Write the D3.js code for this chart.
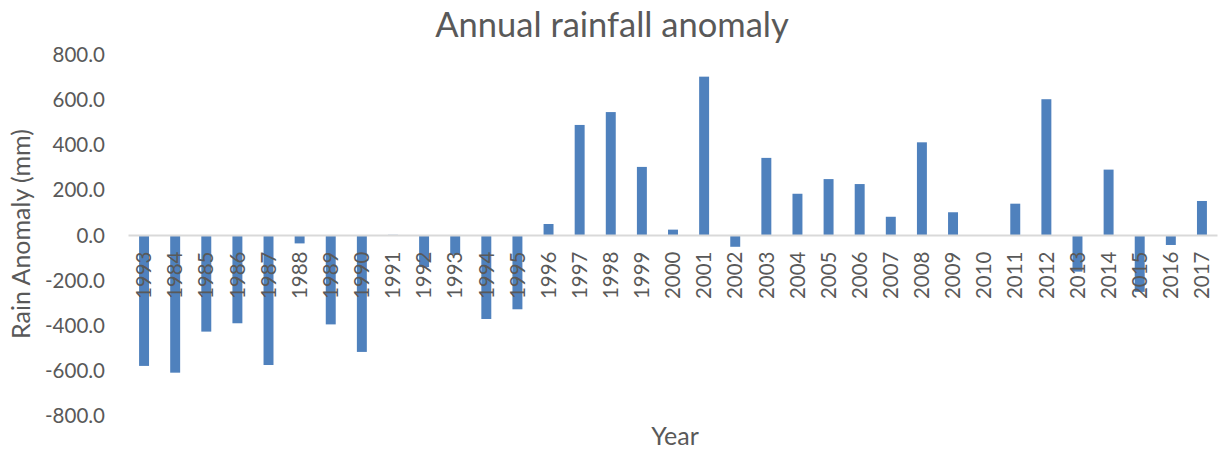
<!DOCTYPE html>
<html>
<head>
<meta charset="utf-8">
<script src="https://cdn.jsdelivr.net/npm/d3@7"></script>
<style>
  html, body { margin: 0; padding: 0; background: #fff; }
  svg { display: block; }
  text { font-family: "Lato", "Open Sans", sans-serif; fill: #595959; }
</style>
</head>
<body>
<svg id="chart" width="1226" height="450"></svg>
<script>
// Year labels as they appear on the axis
const years = ["1993","1984","1985","1986","1987","1988","1989","1990","1991","1992",
  "1993","1994","1995","1996","1997","1998","1999","2000","2001","2002",
  "2003","2004","2005","2006","2007","2008","2009","2010","2011","2012",
  "2013","2014","2015","2016","2017"];

// Annual rainfall anomaly (mm)
const anomaly = [-578, -608, -426, -389, -574, -35, -394, -516, 3, -140,
  -85, -370, -327, 51, 490, 547, 304, 26, 704, -50,
  344, 185, 250, 228, 83, 413, 103, 0, 141, 604,
  -160, 292, -250, -42, 153];

const yTicks = [-800, -600, -400, -200, 0, 200, 400, 600, 800];

const svg = d3.select("#chart");
const plot = { left: 128.5, right: 1217.5, top: 55, bottom: 416 };

const keys = years.map((y, i) => i);
const x = d3.scaleBand().domain(keys).range([plot.left, plot.right]).paddingInner(0.68).paddingOuter(0.34);
const y = d3.scaleLinear().domain([-800, 800]).range([plot.bottom, plot.top]);

// Title
svg.append("text")
  .attr("x", 612).attr("y", 37)
  .attr("text-anchor", "middle")
  .style("font-size", "34.5px")
  .text("Annual rainfall anomaly");

// Y axis tick labels (plain hyphen for negatives)
const fmt = d => d3.format(".1f")(d).replace("\u2212", "-");
const yAxis = d3.axisLeft(y).tickValues(yTicks).tickFormat(fmt).tickSize(0).tickPadding(0);
const gy = svg.append("g").attr("transform", `translate(${105},0)`).call(yAxis);
gy.select(".domain").remove();
gy.selectAll("text").style("font-size", "20.5px").attr("fill", "#595959").style("font-family", "Lato, 'Open Sans', sans-serif");

// Y axis title
svg.append("text")
  .attr("transform", `translate(30,${234}) rotate(-90)`)
  .attr("text-anchor", "middle")
  .style("font-size", "25px")
  .text("Rain Anomaly (mm)");

// Bars
svg.append("g").selectAll("rect").data(anomaly).join("rect")
  .attr("x", (d, i) => x(i))
  .attr("width", x.bandwidth())
  .attr("y", d => y(Math.max(0, d)))
  .attr("height", d => Math.abs(y(d) - y(0)))
  .attr("fill", "#4F81BD");

// Zero line
svg.append("line")
  .attr("x1", plot.left).attr("x2", plot.right)
  .attr("y1", y(0)).attr("y2", y(0))
  .attr("stroke", "#D9D9D9").attr("stroke-width", 2);

// Category labels along the zero line
const xAxis = d3.axisBottom(x).tickFormat(i => years[i]).tickSize(0);
const gx = svg.append("g").attr("transform", `translate(0,${y(0)})`).call(xAxis);
gx.select(".domain").remove();
gx.selectAll("text")
  .attr("transform", "rotate(-90)")
  .attr("x", -16).attr("y", 0).attr("dy", "0.35em")
  .attr("text-anchor", "end")
  .style("font-size", "20.5px").attr("fill", "#595959")
  .style("font-family", "Lato, 'Open Sans', sans-serif");

// X axis title
svg.append("text")
  .attr("x", 675).attr("y", 445)
  .attr("text-anchor", "middle")
  .style("font-size", "25px")
  .text("Year");
</script>
</body>
</html>
